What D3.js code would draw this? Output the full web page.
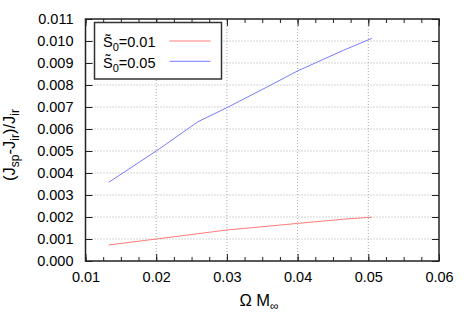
<!DOCTYPE html>
<html>
<head>
<meta charset="utf-8">
<script src="https://cdn.jsdelivr.net/npm/d3@7"></script>
<style>
  body { margin: 0; background: #fff; }
  svg text { font-family: "Liberation Sans", Arial, sans-serif; fill: #000; }
</style>
</head>
<body>
<div class="container"></div>
<script>
// x values (Omega M_inf) and the two series
const omegaM = [0.0133, 0.0200, 0.0259, 0.0300, 0.0358, 0.0400, 0.0465, 0.0505];
const s001 = [0.00073, 0.00100, 0.00124, 0.00141, 0.00158, 0.00171, 0.00190, 0.00199];
const s005 = [0.00358, 0.00500, 0.00633, 0.00697, 0.00793, 0.00864, 0.00958, 0.01012];
const seriesNames = ["0.01", "0.05"];
const seriesColors = ["#ff7a7a", "#7a7aff"];
const xTicks = [0.01, 0.02, 0.03, 0.04, 0.05, 0.06];
const yTicks = d3.range(0, 12).map(i => i / 1000);

const w = 467;
const h = 327;
const margin = {left: 85.5, top: 19, right: 28, bottom: 66};

const xScale = d3.scaleLinear().domain([0.01, 0.06]).range([margin.left, w - margin.right]);
const yScale = d3.scaleLinear().domain([0, 0.011]).range([h - margin.bottom, margin.top]);

const svg = d3.select(".container").append("svg")
  .attr("width", w).attr("height", h);

/* grid */
svg.append("g").selectAll("line").data(xTicks.slice(1, -1)).enter().append("line")
  .attr("x1", d => xScale(d)).attr("x2", d => xScale(d))
  .attr("y1", yScale(0)).attr("y2", yScale(0.011))
  .attr("stroke", "#aaa").attr("stroke-dasharray", "1,2");
svg.append("g").selectAll("line").data(yTicks.slice(1, -1)).enter().append("line")
  .attr("y1", d => yScale(d)).attr("y2", d => yScale(d))
  .attr("x1", xScale(0.01)).attr("x2", xScale(0.06))
  .attr("stroke", "#aaa").attr("stroke-dasharray", "1,2");

/* axes: ticks drawn inward, mirrored on top and right */
const minorX = d3.range(0, 21).map(i => 0.01 + i * 0.0025);
const styleAxis = g => {
  g.attr("font-size", 14.5).attr("font-family", null);
  g.select(".domain").remove();
  g.selectAll(".tick line").attr("stroke", "#222");
};
svg.append("g").attr("transform", `translate(0,${yScale(0)})`)
  .call(d3.axisBottom(xScale).tickValues(minorX).tickSize(-4).tickFormat(""))
  .call(styleAxis);
svg.append("g").attr("transform", `translate(0,${yScale(0.011)})`)
  .call(d3.axisTop(xScale).tickValues(minorX).tickSize(-4).tickFormat(""))
  .call(styleAxis);
svg.append("g").attr("transform", `translate(0,${yScale(0)})`)
  .call(d3.axisBottom(xScale).tickValues(xTicks).tickSize(-7).tickPadding(11).tickFormat(d3.format(".2f")))
  .call(styleAxis);
svg.append("g").attr("transform", `translate(0,${yScale(0.011)})`)
  .call(d3.axisTop(xScale).tickValues(xTicks).tickSize(-7).tickFormat(""))
  .call(styleAxis);
svg.append("g").attr("transform", `translate(${xScale(0.01)},0)`)
  .call(d3.axisLeft(yScale).tickValues(yTicks).tickSize(-7).tickPadding(12).tickFormat(d3.format(".3f")))
  .call(styleAxis);
svg.append("g").attr("transform", `translate(${xScale(0.06)},0)`)
  .call(d3.axisRight(yScale).tickValues(yTicks).tickSize(-7).tickFormat(""))
  .call(styleAxis);

/* frame */
svg.append("rect")
  .attr("x", xScale(0.01)).attr("y", yScale(0.011))
  .attr("width", xScale(0.06) - xScale(0.01)).attr("height", yScale(0) - yScale(0.011))
  .attr("fill", "none").attr("stroke", "#222").attr("stroke-width", 1.5);

/* lines */
const line = d3.line().x(d => xScale(d[0])).y(d => yScale(d[1]));
[s001, s005].forEach((s, i) => {
  svg.append("path")
    .datum(omegaM.map((x, j) => [x, s[j]]))
    .attr("d", line)
    .attr("fill", "none")
    .attr("stroke", seriesColors[i])
    .attr("stroke-width", 1);
});

/* legend */
svg.append("rect")
  .attr("x", 94.5).attr("y", 22.5).attr("width", 127).attr("height", 56.5)
  .attr("fill", "#fff").attr("stroke", "#333").attr("stroke-width", 1.5);
seriesNames.forEach((name, i) => {
  const yy = 41 + i * 20.3;
  const t = svg.append("text").attr("x", 103).attr("y", yy + 6.3).style("font-size", "14.5px");
  t.append("tspan").text("S\u0303");
  t.append("tspan").attr("dy", 4).style("font-size", "11px").text("0");
  t.append("tspan").attr("dy", -4).text("=" + name);
  svg.append("line")
    .attr("x1", 169.5).attr("x2", 210.5).attr("y1", yy).attr("y2", yy)
    .attr("stroke", seriesColors[i]).attr("stroke-width", 1);
});

/* axis labels */
const xl = svg.append("text").attr("x", 259).attr("y", 305.5)
  .attr("text-anchor", "middle").style("font-size", "16.5px");
xl.append("tspan").text("\u03A9 M");
xl.append("tspan").attr("dy", 4).style("font-size", "12px").text("\u221E");

const yl = svg.append("text")
  .attr("transform", `translate(15,145) rotate(-90)`)
  .attr("text-anchor", "middle").style("font-size", "16.5px");
yl.append("tspan").text("(J");
yl.append("tspan").attr("dy", 4).style("font-size", "12px").text("sp");
yl.append("tspan").attr("dy", -4).text("-J");
yl.append("tspan").attr("dy", 4).style("font-size", "12px").text("ir");
yl.append("tspan").attr("dy", -4).text(")/J");
yl.append("tspan").attr("dy", 4).style("font-size", "12px").text("ir");
</script>
</body>
</html>
